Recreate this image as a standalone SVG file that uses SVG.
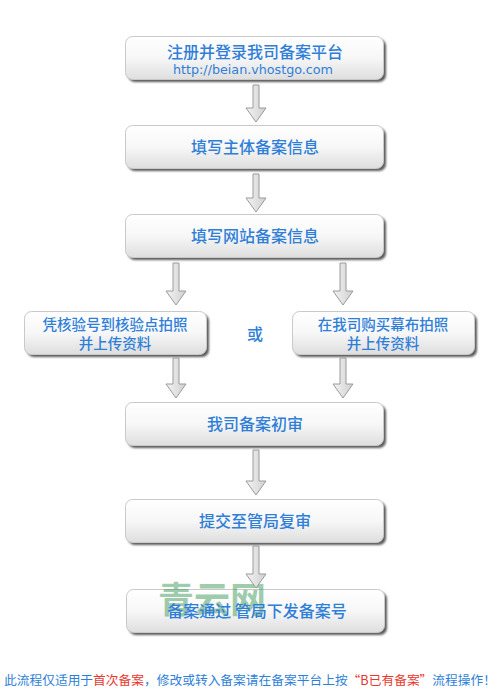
<svg xmlns="http://www.w3.org/2000/svg" width="500" height="692" viewBox="0 0 500 692">
<defs>
<linearGradient id="bg" x1="0" y1="0" x2="0" y2="1">
<stop offset="0" stop-color="#ffffff"/>
<stop offset="0.5" stop-color="#f7f7f7"/>
<stop offset="1" stop-color="#dedede"/>
</linearGradient>
<linearGradient id="ag" x1="0" y1="0" x2="1" y2="0">
<stop offset="0" stop-color="#f4f4f4"/>
<stop offset="1" stop-color="#d0d0d0"/>
</linearGradient>
<filter id="blur" x="-10%" y="-20%" width="120%" height="150%"><feGaussianBlur stdDeviation="0.8"/></filter>
</defs>
<style>
.sh{fill:#5a5a5a;filter:url(#blur)}
.bx{fill:url(#bg);stroke:#c9c9c9;stroke-width:1}
.t{font-family:"Noto Sans CJK SC","Liberation Sans",sans-serif;fill:#2f7fd8;text-anchor:middle;font-weight:500}
.u{font-family:"DejaVu Sans","Liberation Sans",sans-serif;fill:#2f7fd8;text-anchor:middle;font-size:12px}
.ar{fill:url(#ag);stroke:#9a9a9a;stroke-width:1}
.ft{font-family:"Noto Sans CJK SC",sans-serif;font-size:12.5px}
</style>
<rect width="500" height="692" fill="#ffffff"/>

<g id="n1">
<rect class="sh" x="128" y="39" width="258" height="43" rx="7"/>
<rect class="bx" x="125.5" y="36.5" width="258" height="43" rx="7"/>
<text class="t" x="255" y="58" font-size="16">注册并登录我司备案平台</text>
<text class="u" x="253" y="74" textLength="160" lengthAdjust="spacingAndGlyphs">http://beian.vhostgo.com</text>
</g>
<g id="n2">
<rect class="sh" x="128" y="128" width="258" height="43" rx="7"/>
<rect class="bx" x="125.5" y="125.5" width="258" height="43" rx="7"/>
<text class="t" x="255" y="153" font-size="16">填写主体备案信息</text>
</g>
<g id="n3">
<rect class="sh" x="128" y="217" width="258" height="43" rx="7"/>
<rect class="bx" x="125.5" y="214.5" width="258" height="43" rx="7"/>
<text class="t" x="255" y="242" font-size="16">填写网站备案信息</text>
</g>
<g id="n4">
<rect class="sh" x="27" y="314" width="182" height="43" rx="7"/>
<rect class="bx" x="24.5" y="311.5" width="182" height="43" rx="7"/>
<text class="t" x="115" y="330" font-size="14.5">凭核验号到核验点拍照</text>
<text class="t" x="115" y="349" font-size="14.5">并上传资料</text>
</g>
<g id="n5">
<rect class="sh" x="295" y="314" width="182" height="43" rx="7"/>
<rect class="bx" x="292.5" y="311.5" width="182" height="43" rx="7"/>
<text class="t" x="383" y="330" font-size="14.5">在我司购买幕布拍照</text>
<text class="t" x="383" y="349" font-size="14.5">并上传资料</text>
</g>
<g id="or">
<text class="t" x="255" y="340" font-size="16">或</text>
</g>
<g id="n6">
<rect class="sh" x="128" y="405" width="258" height="43" rx="7"/>
<rect class="bx" x="125.5" y="402.5" width="258" height="43" rx="7"/>
<text class="t" x="255" y="430" font-size="16">我司备案初审</text>
</g>
<g id="n7">
<rect class="sh" x="128" y="502" width="258" height="43" rx="7"/>
<rect class="bx" x="125.5" y="499.5" width="258" height="43" rx="7"/>
<text class="t" x="255" y="527" font-size="16">提交至管局复审</text>
</g>
<g id="n8">
<rect class="sh" x="129" y="592" width="258" height="43" rx="7"/>
<rect class="bx" x="126.5" y="589.5" width="258" height="43" rx="7"/>
<text x="158" y="613" font-family="Noto Sans CJK SC,sans-serif" font-size="36" font-weight="bold" fill="#3f9a5c" fill-opacity="0.5">青云网</text>
<text class="t" x="257" y="617" font-size="16">备案通过  管局下发备案号</text>
</g>

<g id="connectors">
<path class="ar" d="M253,85 H259 V108 H266 L256,122 L246,108 H253 Z"/>
<path class="ar" d="M253,174 H259 V198 H266 L256,212 L246,198 H253 Z"/>
<path class="ar" d="M173,263 H179 V291 H186 L176,305 L166,291 H173 Z"/>
<path class="ar" d="M340,263 H346 V291 H353 L343,305 L333,291 H340 Z"/>
<path class="ar" d="M173,358 H179 V384 H186 L176,398 L166,384 H173 Z"/>
<path class="ar" d="M340,358 H346 V384 H353 L343,398 L333,384 H340 Z"/>
<path class="ar" d="M253,450 H259 V481 H266 L256,495 L246,481 H253 Z"/>
<path class="ar" d="M253,546 H259 V574 H266 L256,588 L246,574 H253 Z"/>
</g>

<g id="footer">
<text class="ft" x="4" y="685" textLength="492" lengthAdjust="spacingAndGlyphs"><tspan fill="#2f7fd8">此流程仅适用于</tspan><tspan fill="#e8382e">首次备案</tspan><tspan fill="#2f7fd8">，修改或转入备案请在备案平台上按</tspan><tspan fill="#e8382e">“B已有备案”</tspan><tspan fill="#2f7fd8">流程操作！</tspan></text>
</g>
</svg>
